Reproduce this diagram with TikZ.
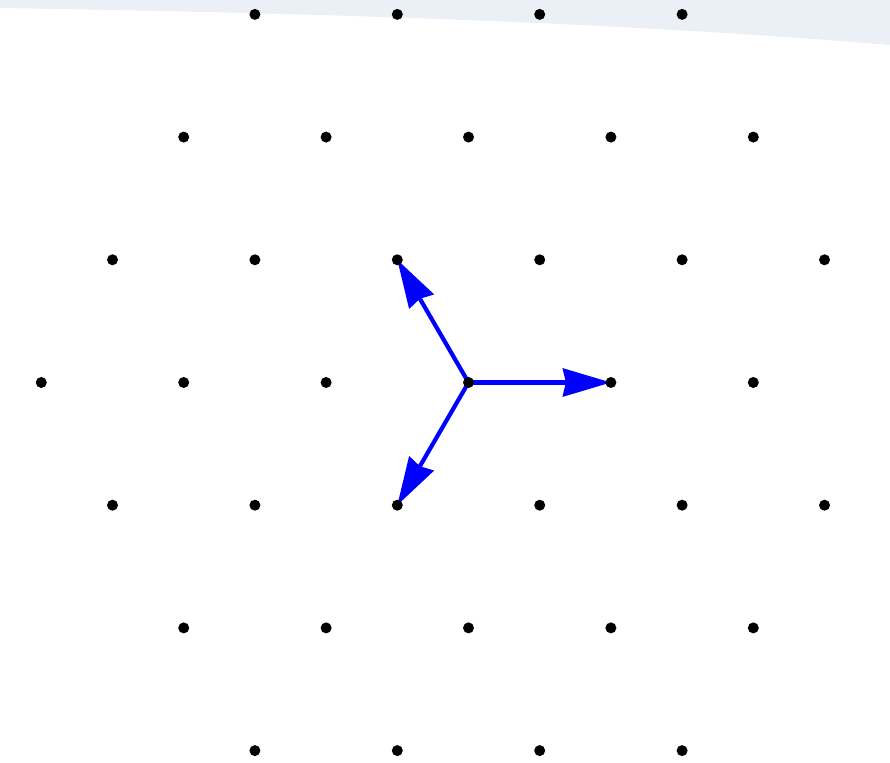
\documentclass[tikz,border=0pt]{standalone}
\usetikzlibrary{arrows.meta,backgrounds}
\definecolor{bandcol}{RGB}{234,240,246}
\tikzset{
  dot/.style={circle,fill=black,inner sep=0pt,minimum width=0.11cm,minimum height=0.11cm},
  vec/.style={draw=blue,line width=0.042cm,-{Stealth[length=0.48cm,width=0.28cm,inset=0.03cm]}}
}
\begin{document}
\begin{tikzpicture}
\useasboundingbox (0,0) rectangle (8.9,7.63);
\foreach \j/\l in {3/{-3,-1,1,3},2/{-4,-2,0,2,4},1/{-5,-3,-1,1,3,5},0/{-6,-4,-2,0,2,4},-1/{-5,-3,-1,1,3,5},-2/{-4,-2,0,2,4},-3/{-3,-1,1,3}}{
  \foreach \i in \l {
    \pgfmathtruncatemacro\a{\i+6}
    \pgfmathtruncatemacro\b{\j+3}
    \node[dot] (p\a-\b) at ({4.685+\i*0.712},{3.805+\j*1.227}) {};
  }
}
\begin{scope}[on background layer]
  \fill[bandcol] (0,7.63) -- (8.9,7.63) -- (8.9,7.18) .. controls (6,7.42) and (3,7.5) .. (0,7.55) -- cycle;
  \draw[vec] (p6-3.center) -- (p8-3.center);
  \draw[vec] (p6-3.center) -- (p5-4.center);
  \draw[vec] (p6-3.center) -- (p5-2.center);
\end{scope}
\end{tikzpicture}
\end{document}
